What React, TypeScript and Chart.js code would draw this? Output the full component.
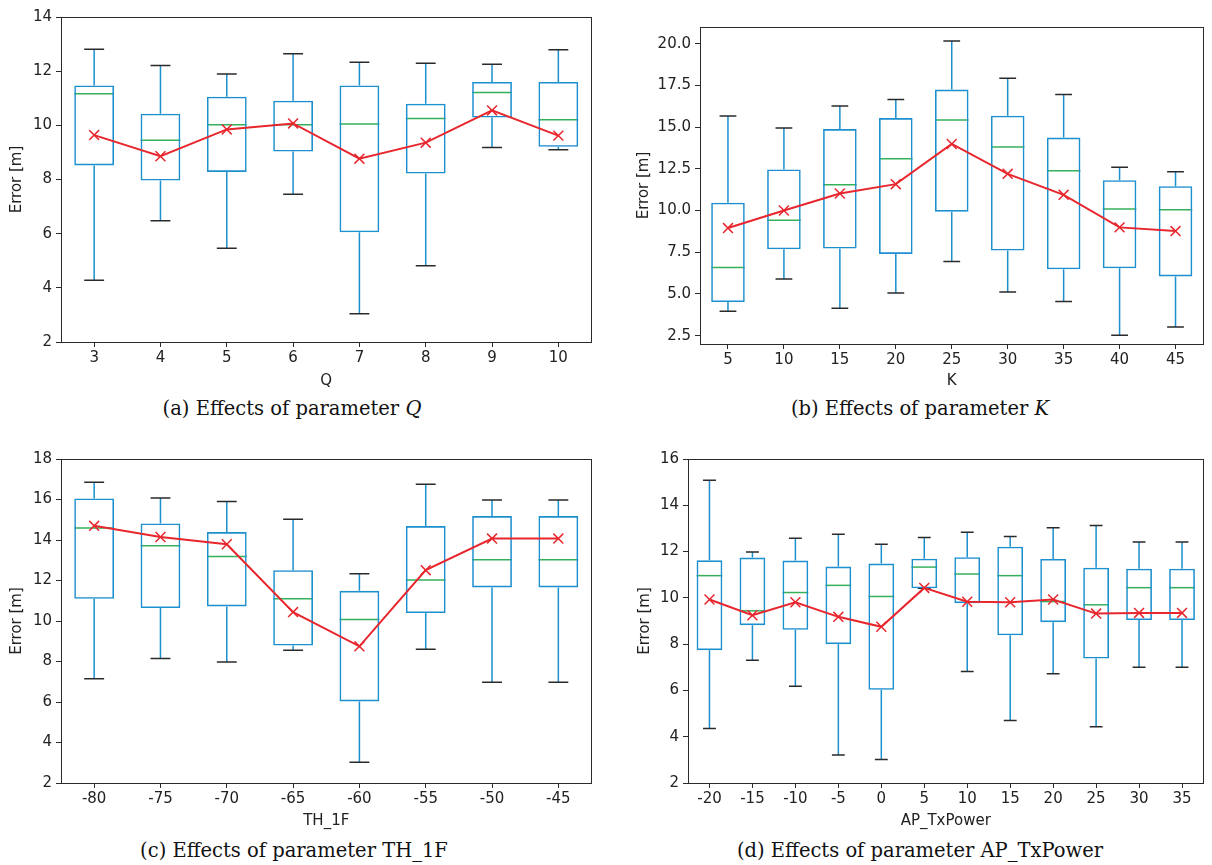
import React, { useEffect, useRef } from "react";
import { Chart, registerables } from "chart.js";

Chart.register(...registerables);

// ---------- (a) parameter Q ----------
const Q_LABELS = ["3", "4", "5", "6", "7", "8", "9", "10"];
const Q_MIN = [4.28, 6.48, 5.46, 7.46, 3.04, 4.82, 9.18, 9.1];
const Q_Q1 = [8.52, 7.96, 8.28, 9.03, 6.05, 8.22, 10.29, 9.21];
const Q_MED = [11.17, 9.45, 10.02, 10.02, 10.05, 10.25, 11.21, 10.21];
const Q_Q3 = [11.47, 10.43, 11.06, 10.91, 11.47, 10.8, 11.6, 11.6];
const Q_MAX = [12.81, 12.21, 11.9, 12.64, 12.33, 12.29, 12.26, 12.79];
const Q_MEAN = [9.64, 8.86, 9.85, 10.07, 8.77, 9.36, 10.55, 9.62];
const Q_TICKS = [2, 4, 6, 8, 10, 12, 14];

// ---------- (b) parameter K ----------
const K_LABELS = ["5", "10", "15", "20", "25", "30", "35", "40", "45"];
const K_MIN = [3.96, 5.89, 4.14, 5.05, 6.94, 5.11, 4.55, 2.52, 3.02];
const K_Q1 = [4.51, 7.68, 7.72, 7.4, 9.93, 7.6, 6.48, 6.54, 6.05];
const K_MED = [6.58, 9.41, 11.54, 13.11, 15.42, 13.81, 12.38, 10.09, 10.05];
const K_Q3 = [10.47, 12.46, 14.88, 15.54, 17.25, 15.68, 14.37, 11.82, 11.46];
const K_MAX = [15.66, 14.94, 16.26, 16.66, 20.16, 17.93, 16.95, 12.6, 12.32];
const K_MEAN = [8.95, 10.0, 11.02, 11.58, 13.99, 12.2, 10.94, 8.99, 8.77];
const K_TICKS = [2.5, 5.0, 7.5, 10.0, 12.5, 15.0, 17.5, 20.0];

// ---------- (c) parameter TH_1F ----------
const TH_LABELS = ["-80", "-75", "-70", "-65", "-60", "-55", "-50", "-45"];
const TH_MIN = [7.15, 8.15, 7.98, 8.56, 3.03, 8.61, 6.98, 6.98];
const TH_Q1 = [11.1, 10.64, 10.72, 8.79, 6.03, 10.39, 11.66, 11.66];
const TH_MED = [14.59, 13.72, 13.18, 11.1, 10.07, 12.03, 13.02, 13.02];
const TH_Q3 = [16.05, 14.82, 14.39, 12.51, 11.49, 14.69, 15.18, 15.18];
const TH_MAX = [16.85, 16.07, 15.9, 15.03, 12.33, 16.75, 15.97, 15.97];
const TH_MEAN = [14.7, 14.15, 13.79, 10.44, 8.75, 12.51, 14.07, 14.07];
const TH_TICKS = [2, 4, 6, 8, 10, 12, 14, 16, 18];

// ---------- (d) parameter AP_TxPower ----------
const AP_LABELS = ["-20", "-15", "-10", "-5", "0", "5", "10", "15", "20", "25", "30", "35"];
const AP_MIN = [4.35, 7.3, 6.18, 3.21, 3.02, 10.41, 6.82, 4.7, 6.72, 4.43, 7.0, 7.0];
const AP_Q1 = [7.74, 8.82, 8.62, 8.0, 6.03, 10.41, 9.77, 8.38, 8.95, 7.38, 9.04, 9.04];
const AP_MED = [10.96, 9.44, 10.23, 10.54, 10.06, 11.33, 11.03, 10.96, 9.84, 9.7, 10.44, 10.44];
const AP_Q3 = [11.62, 11.74, 11.61, 11.35, 11.48, 11.69, 11.76, 12.21, 11.68, 11.3, 11.26, 11.26];
const AP_MAX = [15.08, 11.98, 12.58, 12.75, 12.32, 12.61, 12.83, 12.65, 13.03, 13.13, 12.41, 12.41];
const AP_MEAN = [9.93, 9.25, 9.81, 9.18, 8.75, 10.43, 9.83, 9.81, 9.93, 9.32, 9.35, 9.35];
const AP_TICKS = [2, 4, 6, 8, 10, 12, 14, 16];

const BLUE = "#1c8fcf";
const GREEN = "#35b05a";
const RED = "#e8262e";
const DARK = "#2a2a2a";
const SANS = "'DejaVu Sans', sans-serif";
const FONT_SIZE = 15;

type BoxProps = {
  labels: string[];
  mins: number[];
  q1: number[];
  med: number[];
  q3: number[];
  maxs: number[];
  mean: number[];
  yMin: number;
  yMax: number;
  yTicks: number[];
  decimals: number;
  xTitle: string;
  left: number;
  top: number;
  width: number;
  height: number;
  areaLeft: number;
  areaTop: number;
  areaRight: number;
  areaBottom: number;
  yTitleX: number;
};

function BoxChart(p: BoxProps) {
  const ref = useRef<HTMLCanvasElement | null>(null);
  useEffect(() => {
    if (!ref.current) return;
    const padTop = p.areaTop - p.top;
    const padRight = p.left + p.width - p.areaRight;
    const yAxisWidth = p.areaLeft - p.left;
    const xAxisHeight = p.top + p.height - p.areaBottom;
    const yTitleOffset = p.yTitleX - p.left;

    const whiskerPlugin = {
      id: "whiskers",
      beforeDatasetsDraw(chart: any) {
        const ctx = chart.ctx;
        const ys = chart.scales.y;
        const meta = chart.getDatasetMeta(1);
        ctx.save();
        meta.data.forEach((el: any, i: number) => {
          const x = el.x;
          const w = el.width;
          const pMin = ys.getPixelForValue(p.mins[i]);
          const pQ1 = ys.getPixelForValue(p.q1[i]);
          const pQ3 = ys.getPixelForValue(p.q3[i]);
          const pMax = ys.getPixelForValue(p.maxs[i]);
          const pMed = ys.getPixelForValue(p.med[i]);
          ctx.lineWidth = 1.5;
          ctx.strokeStyle = BLUE;
          ctx.beginPath();
          ctx.moveTo(x, pQ3);
          ctx.lineTo(x, pMax);
          ctx.moveTo(x, pQ1);
          ctx.lineTo(x, pMin);
          ctx.stroke();
          ctx.strokeStyle = DARK;
          ctx.beginPath();
          ctx.moveTo(x - w / 4, pMax);
          ctx.lineTo(x + w / 4, pMax);
          ctx.moveTo(x - w / 4, pMin);
          ctx.lineTo(x + w / 4, pMin);
          ctx.stroke();
          ctx.strokeStyle = GREEN;
          ctx.beginPath();
          ctx.moveTo(x - w / 2, pMed);
          ctx.lineTo(x + w / 2, pMed);
          ctx.stroke();
        });
        ctx.restore();
      },
      afterDraw(chart: any) {
        const { ctx, chartArea } = chart;
        ctx.save();
        ctx.strokeStyle = DARK;
        ctx.lineWidth = 1;
        ctx.strokeRect(
          Math.round(chartArea.left) + 0.5,
          Math.round(chartArea.top) + 0.5,
          Math.round(chartArea.right - chartArea.left) - 1,
          Math.round(chartArea.bottom - chartArea.top)
        );
        ctx.restore();
      },
    };

    const chart = new Chart(ref.current, {
      type: "bar",
      data: {
        labels: p.labels,
        datasets: [
          {
            type: "line",
            data: p.mean,
            borderColor: RED,
            borderWidth: 2,
            pointStyle: "crossRot",
            pointRadius: 7,
            pointBorderWidth: 1.5,
            pointBackgroundColor: RED,
            pointBorderColor: RED,
            order: 0,
          } as any,
          {
            type: "bar",
            data: p.q1.map((v, i) => [v, p.q3[i]]),
            backgroundColor: "rgba(0,0,0,0)",
            borderColor: BLUE,
            borderWidth: 1.6,
            borderSkipped: false,
            barPercentage: 0.75,
            categoryPercentage: 0.8,
            order: 1,
          } as any,
        ],
      },
      options: {
        animation: false,
        responsive: false,
        maintainAspectRatio: false,
        layout: { padding: { top: padTop, right: padRight, left: 0, bottom: 0 } },
        plugins: {
          legend: { display: false },
          tooltip: { enabled: false },
        },
        scales: {
          x: {
            type: "category",
            offset: true,
            grid: {
              display: true,
              drawOnChartArea: false,
              drawTicks: true,
              tickLength: 5,
              color: DARK,
              offset: false,
            },
            border: { display: false },
            ticks: {
              color: "#222",
              font: { family: SANS, size: FONT_SIZE },
              padding: 2,
              maxRotation: 0,
              autoSkip: false,
            },
            title: {
              display: true,
              text: p.xTitle,
              color: "#222",
              font: { family: SANS, size: FONT_SIZE },
              padding: { top: 0, bottom: 5 },
            },
            afterFit: (s: any) => {
              s.height = xAxisHeight;
            },
          },
          y: {
            type: "linear",
            min: p.yMin,
            max: p.yMax,
            afterBuildTicks: (s: any) => {
              s.ticks = p.yTicks.map((v) => ({ value: v }));
            },
            grid: {
              display: true,
              drawOnChartArea: false,
              drawTicks: true,
              tickLength: 5,
              color: DARK,
            },
            border: { display: false },
            ticks: {
              color: "#222",
              font: { family: SANS, size: FONT_SIZE },
              padding: 4,
              callback: (v: any) => Number(v).toFixed(p.decimals),
            },
            title: {
              display: true,
              text: "Error [m]",
              color: "#222",
              font: { family: SANS, size: FONT_SIZE },
              padding: { top: yTitleOffset - 9, bottom: 0 },
            },
            afterFit: (s: any) => {
              s.width = yAxisWidth;
            },
          },
        },
      } as any,
      plugins: [whiskerPlugin],
    });
    return () => chart.destroy();
  }, []);
  return (
    <canvas
      ref={ref}
      width={p.width}
      height={p.height}
      style={{ position: "absolute", left: p.left, top: p.top, width: p.width, height: p.height }}
    />
  );
}

const captionStyle = (cx: number, cy: number): React.CSSProperties => ({
  position: "absolute",
  left: cx - 300,
  top: cy - 12,
  width: 600,
  height: 24,
  lineHeight: "24px",
  textAlign: "center",
  fontFamily: "'DejaVu Serif', serif",
  fontSize: 19.5,
  color: "#111",
  whiteSpace: "nowrap",
});

export default function App() {
  return (
    <div style={{ position: "absolute", left: 0, top: 0, width: 1212, height: 865, background: "#fff", overflow: "hidden" }}>
      <BoxChart
        labels={Q_LABELS} mins={Q_MIN} q1={Q_Q1} med={Q_MED} q3={Q_Q3} maxs={Q_MAX} mean={Q_MEAN}
        yMin={2} yMax={14} yTicks={Q_TICKS} decimals={0} xTitle="Q"
        left={0} top={0} width={600} height={395}
        areaLeft={61} areaTop={17} areaRight={597} areaBottom={342} yTitleX={17}
      />
      <BoxChart
        labels={K_LABELS} mins={K_MIN} q1={K_Q1} med={K_MED} q3={K_Q3} maxs={K_MAX} mean={K_MEAN}
        yMin={2.0} yMax={21.0} yTicks={K_TICKS} decimals={1} xTitle="K"
        left={600} top={0} width={612} height={395}
        areaLeft={700} areaTop={27} areaRight={1210} areaBottom={344} yTitleX={644}
      />
      <BoxChart
        labels={TH_LABELS} mins={TH_MIN} q1={TH_Q1} med={TH_MED} q3={TH_Q3} maxs={TH_MAX} mean={TH_MEAN}
        yMin={2} yMax={18} yTicks={TH_TICKS} decimals={0} xTitle="TH_1F"
        left={0} top={440} width={600} height={395}
        areaLeft={61} areaTop={459} areaRight={597} areaBottom={783} yTitleX={17}
      />
      <BoxChart
        labels={AP_LABELS} mins={AP_MIN} q1={AP_Q1} med={AP_MED} q3={AP_Q3} maxs={AP_MAX} mean={AP_MEAN}
        yMin={2} yMax={16} yTicks={AP_TICKS} decimals={0} xTitle="AP_TxPower"
        left={600} top={440} width={612} height={395}
        areaLeft={688} areaTop={459} areaRight={1210} areaBottom={783} yTitleX={645}
      />
      <div style={captionStyle(292, 409)}>(a) Effects of parameter <i>Q</i></div>
      <div style={captionStyle(920, 409)}>(b) Effects of parameter <i>K</i></div>
      <div style={captionStyle(294, 851)}>(c) Effects of parameter TH_1F</div>
      <div style={captionStyle(920, 851)}>(d) Effects of parameter AP_TxPower</div>
    </div>
  );
}
